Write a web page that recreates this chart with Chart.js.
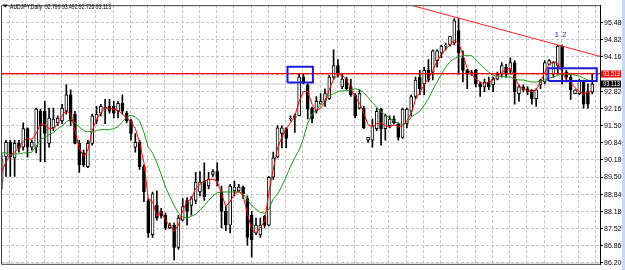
<!DOCTYPE html>
<html>
<head>
<meta charset="utf-8">
<script src="https://cdn.jsdelivr.net/npm/chart.js@4/dist/chart.umd.min.js"></script>
<style>
html, body { margin: 0; padding: 0; background: #fff; overflow: hidden; }
</style>
</head>
<body>
<canvas id="chart" width="625" height="270"></canvas>
<script>
// AUDJPY daily candles (oldest first)
const opens = [
  89.36, 90.30, 90.86, 90.26, 90.82, 90.67, 91.39, 90.67, 90.67, 92.06,
  92.06, 90.82, 91.42, 91.61, 91.69, 92.06, 92.70, 91.95, 90.82, 90.45,
  89.92, 90.82, 91.69, 91.99, 92.14, 92.25, 92.25, 92.06, 92.37, 91.99,
  91.69, 90.67, 90.86, 89.92, 88.61, 87.29, 88.42, 88.19, 88.04, 87.55,
  87.66, 86.80, 87.85, 88.61, 88.42, 88.61, 88.94, 89.36, 89.17, 89.62,
  89.73, 88.94, 88.19, 87.66, 88.98, 88.98, 89.13, 88.68, 88.04, 87.36,
  87.29, 88.00, 87.66, 89.51, 90.30, 91.20, 91.39, 91.76, 91.80, 91.88,
  93.38, 93.08, 92.18, 92.06, 92.33, 92.44, 92.55, 93.38, 93.83, 93.00,
  93.30, 93.00, 92.70, 92.18, 92.18, 90.94, 90.94, 91.39, 92.14, 91.39,
  91.50, 91.76, 91.58, 91.05, 91.58, 92.06, 92.63, 93.38, 93.12, 93.64,
  93.57, 94.02, 94.32, 94.58, 94.62, 94.70, 95.18, 94.13, 93.64, 93.49,
  93.64, 93.12, 93.00, 93.19, 93.08, 93.30, 93.49, 93.76, 93.68, 93.94,
  92.74, 93.00, 92.93, 92.89, 92.55, 93.08, 93.19, 93.87, 93.49, 93.83,
  94.58, 93.57, 93.38, 92.74, 92.74, 93.19, 92.82, 92.799
]
const highs = [
  90.37, 90.94, 90.94, 90.94, 90.94, 91.61, 91.42, 90.94, 92.18, 92.14,
  92.44, 92.18, 92.18, 91.88, 92.33, 93.08, 92.89, 92.06, 90.94, 90.56,
  90.94, 91.95, 92.25, 92.33, 92.52, 92.52, 92.44, 92.44, 92.70, 92.06,
  91.76, 91.20, 90.94, 89.99, 88.68, 88.94, 88.98, 88.31, 88.12, 87.74,
  87.74, 88.04, 88.68, 88.72, 88.76, 89.70, 89.73, 90.07, 89.70, 89.81,
  90.07, 89.17, 88.38, 89.24, 89.36, 89.24, 89.17, 88.79, 88.19, 87.93,
  87.93, 88.04, 89.54, 90.48, 91.50, 91.50, 91.42, 91.88, 91.95, 93.49,
  93.53, 93.12, 92.22, 92.63, 92.74, 92.93, 93.45, 94.43, 94.06, 93.49,
  93.38, 93.30, 92.74, 92.89, 92.25, 91.05, 91.76, 92.18, 92.18, 91.95,
  91.88, 91.88, 91.61, 92.18, 92.18, 92.70, 93.38, 93.64, 93.76, 94.06,
  94.43, 94.43, 94.62, 94.70, 94.96, 95.64, 95.64, 94.40, 93.68, 93.64,
  93.68, 93.19, 93.30, 93.38, 93.38, 93.57, 93.94, 93.87, 94.13, 94.02,
  93.08, 93.08, 93.00, 92.89, 92.93, 93.30, 94.02, 94.06, 93.98, 94.62,
  94.62, 93.64, 93.45, 92.89, 93.30, 93.27, 93.12, 93.492
]
const lows = [
  89.06, 89.54, 89.54, 89.54, 90.48, 90.56, 90.30, 90.56, 90.45, 90.11,
  90.11, 90.67, 91.31, 91.50, 91.58, 91.95, 91.50, 90.80, 89.70, 89.92,
  89.88, 90.75, 91.58, 91.88, 91.58, 91.99, 91.80, 91.80, 91.95, 91.61,
  90.94, 90.48, 89.81, 88.57, 87.18, 87.18, 87.85, 87.93, 87.48, 87.52,
  86.31, 86.72, 87.82, 87.66, 88.04, 88.49, 88.79, 88.61, 89.06, 89.54,
  89.17, 87.55, 87.44, 87.36, 88.79, 88.94, 88.68, 86.88, 86.42, 87.29,
  87.18, 87.55, 87.63, 89.43, 90.26, 90.64, 90.64, 91.69, 91.24, 91.88,
  93.12, 91.76, 91.61, 91.99, 92.33, 92.25, 92.52, 93.30, 93.38, 92.93,
  92.89, 92.63, 91.80, 92.14, 91.39, 90.86, 90.67, 91.31, 90.75, 90.94,
  91.42, 91.58, 90.94, 91.01, 91.42, 91.88, 92.55, 92.70, 92.70, 93.19,
  93.27, 93.76, 94.13, 94.43, 94.58, 94.62, 93.49, 93.19, 92.93, 93.45,
  93.00, 92.63, 92.82, 92.89, 92.82, 93.27, 93.38, 93.38, 93.49, 92.33,
  92.44, 92.82, 92.70, 92.33, 92.25, 92.93, 93.12, 93.87, 93.38, 93.49,
  93.12, 93.19, 92.52, 92.74, 92.70, 92.18, 92.18, 92.726
]
const closes = [
  90.18, 90.86, 90.30, 90.82, 90.64, 91.39, 90.67, 90.86, 92.14, 91.50,
  91.20, 91.80, 91.76, 91.80, 92.18, 92.70, 91.69, 90.82, 89.99, 89.99,
  90.82, 91.88, 91.95, 92.25, 92.22, 92.06, 91.99, 92.37, 92.06, 91.69,
  91.20, 90.86, 89.92, 88.94, 87.36, 88.87, 87.93, 88.00, 87.55, 87.66,
  86.80, 87.93, 88.38, 88.19, 88.68, 89.32, 89.32, 88.76, 89.43, 89.73,
  89.36, 88.19, 87.66, 89.17, 89.13, 89.13, 88.87, 87.18, 87.10, 87.66,
  87.66, 87.66, 89.51, 90.26, 91.42, 91.42, 91.01, 91.80, 91.88, 93.38,
  93.19, 92.14, 91.76, 92.44, 92.44, 92.74, 93.38, 93.83, 93.49, 93.30,
  92.93, 92.70, 91.88, 92.74, 91.42, 91.05, 91.50, 92.06, 91.39, 91.88,
  91.76, 91.61, 91.05, 92.14, 92.14, 92.63, 93.27, 92.93, 93.64, 93.27,
  94.40, 94.40, 94.58, 94.62, 94.96, 95.56, 94.32, 93.64, 93.49, 93.57,
  93.12, 93.00, 93.19, 93.00, 93.30, 93.49, 93.83, 93.49, 93.94, 92.82,
  93.00, 92.89, 92.82, 92.55, 92.89, 93.27, 93.94, 94.02, 93.94, 94.58,
  93.76, 93.38, 92.89, 92.89, 93.27, 92.33, 92.33, 93.113
]
// fast (red) and slow (green) moving averages as drawn
const maFast = [
  89.70, 90.11, 90.37, 90.48, 90.67, 90.90, 91.01, 90.97, 91.20, 91.58,
  91.54, 91.39, 91.39, 91.58, 91.88, 92.10, 91.95, 91.31, 90.64, 90.30,
  90.56, 91.31, 91.76, 91.99, 92.18, 92.18, 92.14, 92.10, 91.95, 91.80,
  91.65, 91.39, 90.86, 90.07, 88.68, 88.57, 88.00, 88.19, 87.85, 87.63,
  87.44, 87.66, 88.23, 88.57, 88.68, 89.06, 89.24, 89.36, 89.43, 89.43,
  89.36, 88.87, 88.38, 88.57, 88.87, 88.98, 88.79, 88.12, 87.48, 87.36,
  87.55, 87.82, 88.94, 89.81, 90.64, 91.05, 91.39, 91.61, 91.88, 92.44,
  92.82, 92.82, 92.33, 92.10, 92.18, 92.44, 92.89, 93.30, 93.49, 93.45,
  93.27, 92.93, 92.63, 92.37, 91.99, 91.54, 91.46, 91.58, 91.61, 91.50,
  91.46, 91.54, 91.46, 91.50, 91.69, 91.99, 92.52, 92.78, 93.08, 93.34,
  93.64, 94.02, 94.24, 94.47, 94.62, 94.81, 94.70, 94.24, 93.72, 93.49,
  93.30, 93.19, 93.12, 93.19, 93.27, 93.42, 93.57, 93.68, 93.72, 93.38,
  93.04, 92.93, 92.85, 92.82, 92.89, 93.19, 93.57, 93.87, 93.98, 93.91,
  93.57, 93.27, 93.16, 92.97, 92.82, 92.74, 92.78, 92.85
]
const maSlow = [
  90.45, 90.45, 90.37, 90.41, 90.41, 90.45, 90.45, 90.48, 90.71, 90.97,
  91.05, 91.16, 91.24, 91.39, 91.50, 91.65, 91.76, 91.61, 91.46, 91.31,
  91.27, 91.27, 91.31, 91.35, 91.35, 91.35, 91.39, 91.46, 91.65, 91.84,
  91.91, 91.84, 91.69, 91.24, 90.67, 90.45, 90.07, 89.62, 89.13, 88.76,
  88.42, 88.12, 87.97, 87.93, 88.00, 88.08, 88.23, 88.42, 88.61, 88.79,
  88.91, 88.94, 88.94, 88.94, 88.94, 88.94, 88.87, 88.64, 88.42, 88.27,
  88.15, 88.12, 88.27, 88.68, 88.87, 89.17, 89.54, 89.92, 90.26, 90.56,
  91.01, 91.61, 91.95, 92.10, 92.33, 92.52, 92.67, 92.74, 92.82, 92.85,
  92.85, 92.89, 92.93, 92.89, 92.78, 92.59, 92.40, 92.21, 92.03, 91.91,
  91.80, 91.69, 91.58, 91.54, 91.61, 91.84, 91.95, 92.06, 92.29, 92.55,
  92.89, 93.19, 93.49, 93.76, 93.98, 94.09, 94.17, 94.21, 94.21, 94.21,
  94.06, 93.87, 93.72, 93.57, 93.45, 93.42, 93.42, 93.38, 93.38, 93.30,
  93.27, 93.27, 93.23, 93.19, 93.19, 93.23, 93.27, 93.34, 93.38, 93.45,
  93.49, 93.49, 93.49, 93.45, 93.42, 93.34, 93.27, 93.19
]
const yTicks = [95.48, 94.82, 94.16, 93.49, 92.82, 92.16, 91.50, 90.84, 90.18, 89.50, 88.84, 88.18, 87.52, 86.86, 86.20]
const symbol = 'AUDJPY,Daily'
const levelPrice = 93.518   // red horizontal line
const bidPrice = 93.113     // grey bid line
const trendBar = [95.4, 138.8]
const trendPrice = [96.14, 94.18]
const box1Bar = [66.3, 72.2], box1Price = [93.17, 93.78]
const box2Bar = [126.8, 138.05], box2Price = [93.23, 93.72]
const markBars = [128.8, 130.5], markTexts = ['1', '2'], markPrice = 94.93

const idx = closes.map((_, i) => i)
const wicks = idx.map(i => ({x: i, y: [lows[i], highs[i]]}))
const bodies = idx.map(i => ({x: i, y: [opens[i], closes[i]]}))
const bodyFill = idx.map(i => closes[i] >= opens[i] ? '#ffffff' : '#000000')
const xMin = -0.16, xMax = 138.8

function rectPoints(bx, py){
    return [
        {x: bx[0], y: py[0]}, {x: bx[1], y: py[0]}, {x: bx[1], y: py[1]},
        {x: bx[0], y: py[1]}, {x: bx[0], y: py[0]}
    ]
}

const overlay = {
    id: 'overlay',
    afterDraw(chart){
        const ctx = chart.ctx, a = chart.chartArea
        const ys = chart.scales.y, xs = chart.scales.x
        ctx.save()
        // frame on left/top/bottom
        ctx.strokeStyle = '#404040'
        ctx.lineWidth = 1
        ctx.beginPath()
        ctx.moveTo(a.right, a.top + 0.5); ctx.lineTo(a.left + 0.5, a.top + 0.5)
        ctx.lineTo(a.left + 0.5, a.bottom - 0.5); ctx.lineTo(a.right, a.bottom - 0.5)
        ctx.stroke()
        // header
        ctx.fillStyle = '#000'
        ctx.beginPath(); ctx.moveTo(3, 4.5); ctx.lineTo(7.5, 4.5); ctx.lineTo(5.25, 7.5); ctx.closePath(); ctx.fill()
        const n = closes.length - 1
        const head = symbol + '  ' + [opens[n], highs[n], lows[n], closes[n]].map(v => v.toFixed(3)).join(' ')
        ctx.font = '7.5px "Liberation Sans", Arial, sans-serif'
        ctx.textBaseline = 'alphabetic'
        ctx.fillText(head, 10, 8.7, 101)
        // marks 1 2
        ctx.fillStyle = '#2020c8'
        ctx.textAlign = 'center'
        markBars.forEach((b, k) => ctx.fillText(markTexts[k], xs.getPixelForValue(b), ys.getPixelForValue(markPrice)))
        // price labels on the axis
        ctx.font = '7px "Liberation Sans Narrow", "Liberation Sans", Arial, sans-serif'
        ctx.textAlign = 'left'
        ctx.textBaseline = 'middle'
        ;[[levelPrice, '#ff0000'], [bidPrice, '#000000']].forEach(([p, col]) => {
            const y = ys.getPixelForValue(p)
            ctx.fillStyle = col
            ctx.fillRect(a.right + 1, Math.round(y) - 3.5, 20, 7)
            ctx.fillStyle = '#fff'
            ctx.fillText(p.toFixed(3), a.right + 3, y + 0.5, 17)
        })
        ctx.fillStyle = '#c4daf0'
        ctx.fillRect(622, 0, 3, 270)
        ctx.restore()
    }
}

new Chart(document.getElementById('chart'), {
    type: 'bar',
    data: {
        datasets: [
            {type: 'line', data: rectPoints(box1Bar, box1Price), borderColor: '#1c1cd4', borderWidth: 2, pointRadius: 0, order: 0},
            {type: 'line', data: rectPoints(box2Bar, box2Price), borderColor: '#1c1cd4', borderWidth: 2, pointRadius: 0, order: 0},
            {type: 'line', data: [{x: trendBar[0], y: trendPrice[0]}, {x: trendBar[1], y: trendPrice[1]}], borderColor: '#ff2020', borderWidth: 1, pointRadius: 0, order: 1},
            {type: 'line', data: [{x: xMin, y: levelPrice}, {x: xMax, y: levelPrice}], borderColor: '#ff0000', borderWidth: 1.3, pointRadius: 0, order: 2},
            {type: 'line', data: idx.map(i => ({x: i, y: maFast[i]})), borderColor: '#ff0000', borderWidth: 1, pointRadius: 0, order: 3},
            {type: 'line', data: idx.map(i => ({x: i, y: maSlow[i]})), borderColor: '#1a9a1a', borderWidth: 1, pointRadius: 0, order: 3},
            {data: bodies, backgroundColor: bodyFill, borderColor: '#000', borderWidth: 1, borderSkipped: false,
             barThickness: 3, minBarLength: 1, grouped: false, order: 4},
            {data: wicks, backgroundColor: '#000', borderWidth: 0, barThickness: 1, grouped: false, order: 5},
            {type: 'line', data: [{x: xMin, y: bidPrice}, {x: xMax, y: bidPrice}], borderColor: '#c8c8c8', borderWidth: 1, pointRadius: 0, order: 6}
        ]
    },
    options: {
        responsive: false,
        animation: false,
        layout: {padding: {left: 1, top: 1, right: 0, bottom: 2}},
        plugins: {legend: {display: false}, tooltip: {enabled: false}},
        scales: {
            x: {
                type: 'linear', min: xMin, max: xMax, offset: false,
                ticks: {display: false},
                grid: {color: '#c4c4c4', drawTicks: false},
                border: {display: false, dash: [3, 2]},
                afterBuildTicks: s => { const t = []; for (let v = 3.85; v < xMax; v += 4) t.push({value: v}); s.ticks = t },
                afterFit: s => { s.height = 0 }
            },
            y: {
                position: 'right', min: 86.125, max: 96.16,
                afterBuildTicks: s => { s.ticks = yTicks.map(v => ({value: v})) },
                afterFit: s => { s.width = 25 },
                ticks: {
                    color: '#000', padding: 1,
                    font: {family: '"Liberation Sans Narrow", "Liberation Sans", Arial, sans-serif', size: 7},
                    callback: v => Math.abs(v - 93.49) < 0.001 ? '' : v.toFixed(3)
                },
                grid: {color: '#c4c4c4', tickLength: 3, tickColor: '#000', tickBorderDash: []},
                border: {display: true, color: '#000', width: 1, dash: [3, 2]}
            }
        }
    },
    plugins: [overlay]
})
</script>
</body>
</html>
